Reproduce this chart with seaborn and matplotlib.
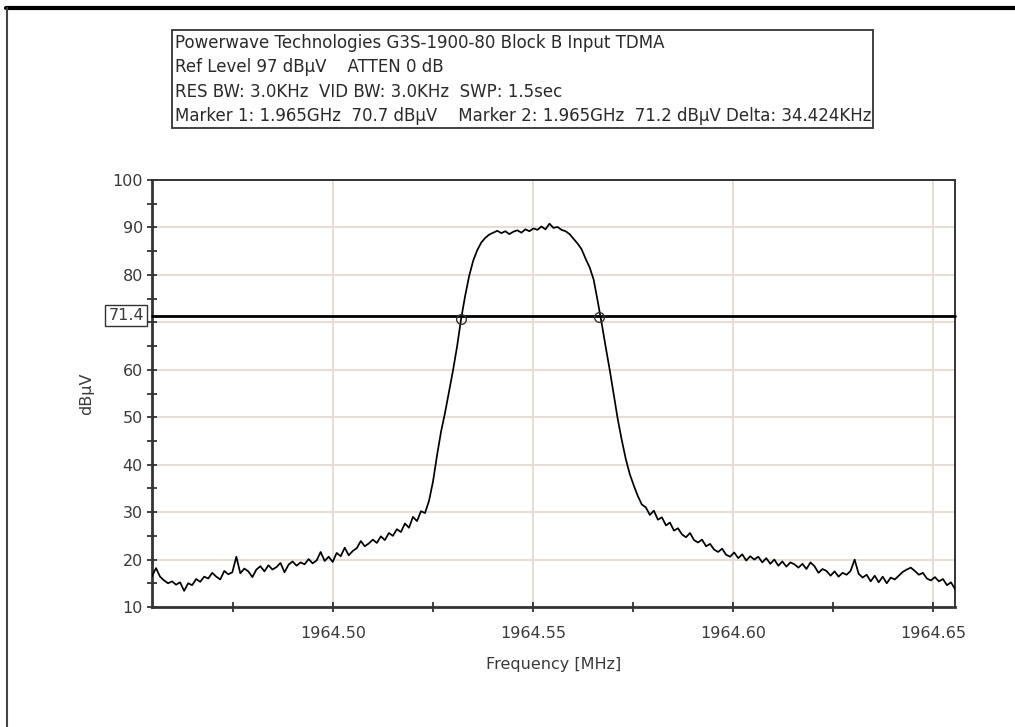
import numpy as np
import matplotlib
matplotlib.use("Agg")
import matplotlib.pyplot as plt
import seaborn as sns
from matplotlib.patches import Rectangle
from matplotlib.lines import Line2D
from matplotlib.ticker import MultipleLocator, FixedLocator

# ---------------- data ----------------
f_start_mhz = 1964.4548
f_stop_mhz = 1964.6555

level_dbuv = [
    16.5, 18.2, 16.4, 15.6, 15.0, 15.4, 14.7, 15.2, 13.4, 15.0, 14.6,
    15.9, 15.3, 16.4, 16.0, 17.2, 16.4, 15.8, 17.6, 16.9, 17.3,
    20.6, 17.1, 18.1, 17.5, 16.3, 17.9, 18.6, 17.5, 18.8, 17.9,
    18.4, 19.3, 17.3, 18.9, 19.6, 18.7, 19.4, 19.0, 20.1, 19.2,
    19.8, 21.6, 19.7, 20.6, 19.5, 21.4, 20.7, 22.5, 20.9, 21.8,
    22.4, 23.9, 22.8, 23.4, 24.2, 23.5, 24.9, 24.1, 25.6, 25.0,
    26.4, 25.8, 27.6, 26.7, 29.0, 28.1, 30.2, 29.8, 32.4, 36.5,
    42.0, 47.0, 51.0, 55.5, 60.0, 65.0, 70.8, 75.6, 79.8, 83.0,
    85.2, 86.8, 87.8, 88.5, 88.9, 89.3, 88.8, 89.2, 88.6, 89.1,
    89.4, 88.9, 89.6, 89.2, 89.8, 89.5, 90.2, 89.6, 90.8, 89.9,
    90.1, 89.5, 89.2, 88.6, 87.6, 86.6, 85.4, 83.4, 81.6, 79.0,
    74.5, 69.8, 64.8, 60.0, 54.8, 49.6, 45.2, 41.2, 38.0, 35.6,
    33.4, 31.6, 31.0, 29.4, 30.3, 28.4, 28.9, 27.2, 27.8, 26.1,
    26.6, 25.3, 24.7, 25.6, 24.1, 23.6, 24.2, 22.8, 23.3, 22.1,
    21.6, 22.3, 21.0, 20.6, 21.5, 20.3, 21.1, 19.8, 20.7, 20.0,
    20.6, 19.4, 20.3, 19.1, 20.0, 18.7, 19.6, 18.5, 19.4, 19.0,
    18.3, 19.1, 18.0, 19.4, 18.6, 17.2, 18.0, 17.6, 16.6, 17.5,
    16.4, 17.2, 16.8, 17.6, 20.0, 17.0, 16.2, 16.8, 15.4, 16.6,
    15.2, 16.4, 15.0, 16.2, 15.8, 16.6, 17.4, 17.9, 18.3, 17.6,
    16.8, 17.2, 16.0, 15.6, 16.3, 15.4, 15.9, 14.6, 15.2, 13.8,
]
freq_mhz = np.linspace(f_start_mhz, f_stop_mhz, len(level_dbuv))

header_lines = [
    "Powerwave Technologies G3S-1900-80 Block B Input TDMA",
    "Ref Level 97 dB\u03bcV    ATTEN 0 dB",
    "RES BW: 3.0KHz  VID BW: 3.0KHz  SWP: 1.5sec",
    "Marker 1: 1.965GHz  70.7 dB\u03bcV    Marker 2: 1.965GHz  71.2 dB\u03bcV Delta: 34.424KHz",
]
x_ticks = [1964.50, 1964.55, 1964.60, 1964.65]
x_tick_labels = ["1964.50", "1964.55", "1964.60", "1964.65"]
y_ticks = [10, 20, 30, 40, 50, 60, 70, 80, 90, 100]
y_tick_labels = ["10", "20", "30", "40", "50", "60", "", "80", "90", "100"]
ref_level_line = 71.4
marker_freqs = [1964.532, 1964.5664]
marker_levels = [70.7, 71.2]
x_label = "Frequency [MHz]"
y_label = "dB\u03bcV"

# ---------------- style ----------------
sns.set_theme(style="white")
plt.rcParams["font.family"] = ["DejaVu Sans"]

W, H = 1015, 727
fig = plt.figure(figsize=(W / 100, H / 100), dpi=100)
fig.patch.set_facecolor("white")

def fx(px):
    return px / W

def fy(py):
    return 1 - py / H

ax_l, ax_r, ax_t, ax_b = 152, 955, 180, 607
ax = fig.add_axes([fx(ax_l), fy(ax_b), (ax_r - ax_l) / W, (ax_b - ax_t) / H])
ax.set_facecolor("white")

grid_c = "#e6ddd6"
for xv in x_ticks:
    ax.axvline(xv, color=grid_c, lw=1.5, zorder=0)
for yv in y_ticks:
    ax.axhline(yv, color=grid_c, lw=1.5, zorder=0)

sns.lineplot(x=freq_mhz, y=level_dbuv, ax=ax, color="black", lw=1.25, zorder=3)

ax.axhline(ref_level_line, color="black", lw=2.0, zorder=4, clip_on=False)
ax.plot(marker_freqs, marker_levels, linestyle="none", marker="o", ms=7,
        mfc="none", mec="#333333", mew=1.0, zorder=5)

ax.set_xlim(f_start_mhz, f_stop_mhz)
ax.set_ylim(10, 100)
ax.xaxis.set_major_locator(FixedLocator(x_ticks))
ax.set_xticklabels(x_tick_labels)
ax.xaxis.set_minor_locator(MultipleLocator(0.025))
ax.yaxis.set_major_locator(FixedLocator(y_ticks))
ax.set_yticklabels(y_tick_labels)
ax.yaxis.set_minor_locator(MultipleLocator(5))

tick_c = "#3a3a3a"
fs = 11.5
ax.tick_params(axis="both", which="major", direction="inout", length=7, width=1.2,
               colors="#222222", labelcolor=tick_c, labelsize=fs)
ax.tick_params(axis="both", which="minor", direction="inout", length=7, width=1.2,
               colors="#222222")
ax.tick_params(axis="x", which="major", pad=10)
ax.tick_params(axis="y", which="major", pad=3)
ax.tick_params(left=True, bottom=True, which="both")

for s in ax.spines.values():
    s.set_visible(True)
    s.set_color("#333333")
    s.set_linewidth(1.4)
ax.spines["left"].set_linewidth(2.0)
ax.spines["bottom"].set_linewidth(2.0)

ax.set_xlabel(x_label, fontsize=fs, color=tick_c, labelpad=12)
ax.set_ylabel(y_label, fontsize=fs, color=tick_c, labelpad=13)

# reference-level label box
ax.text(-0.01, ref_level_line, f"{ref_level_line}", transform=ax.get_yaxis_transform(),
        ha="right", va="center", fontsize=fs, color=tick_c,
        bbox=dict(boxstyle="square,pad=0.2", fc="white", ec="#333333", lw=1.0), zorder=6)

# header box
bx_l, bx_r, bx_t, bx_b = 172, 873, 30, 128
fig.patches.append(Rectangle((fx(bx_l), fy(bx_b)), (bx_r - bx_l) / W, (bx_b - bx_t) / H,
                             transform=fig.transFigure, fill=False, ec="#333333", lw=1.3))
line_y = [43, 67, 92, 116]
for txt, yy in zip(header_lines, line_y):
    fig.text(fx(bx_l + 3), fy(yy), txt, ha="left", va="center", fontsize=12, color="#2a2a2a")

# outer frame
fig.add_artist(Line2D([fx(6), 1.0], [fy(8), fy(8)], color="black", lw=3.0,
                      transform=fig.transFigure))
fig.add_artist(Line2D([fx(7), fx(7)], [fy(8), 0.0], color="#444444", lw=1.5,
                      transform=fig.transFigure))

fig.savefig("out.png", dpi=100, facecolor="white")
